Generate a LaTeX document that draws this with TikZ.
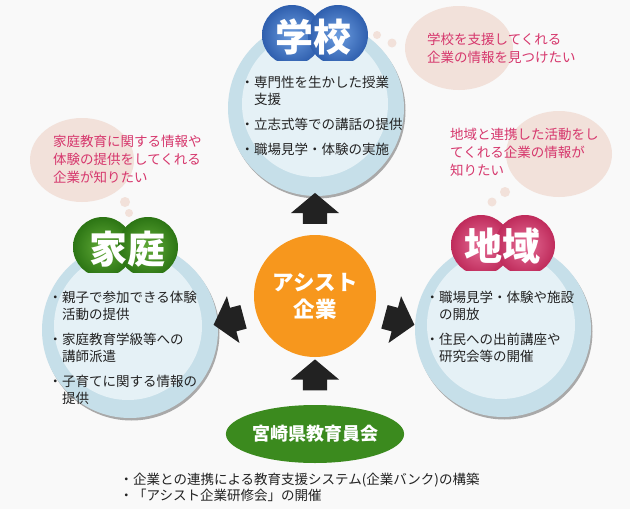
\documentclass[tikz,border=0pt]{standalone}
\usepackage{fontspec}
\setmainfont{Noto Sans CJK JP}
\usepackage{tikz}
\usetikzlibrary{shapes.arrows,shapes.geometric,positioning}
\definecolor{Page_Gray}{HTML}{F9F9F9}
\definecolor{Disk_Outer}{HTML}{C6DFE9}
\definecolor{Disk_Inner}{HTML}{E5F1F6}
\definecolor{Disk_Shadow}{HTML}{A9A9A9}
\definecolor{Bubble_Beige}{HTML}{F2E1DA}
\definecolor{Wish_Rose}{HTML}{D6366C}
\definecolor{Item_Black}{HTML}{222222}
\definecolor{Assist_Orange}{HTML}{F7971D}
\definecolor{Board_Green}{HTML}{3B8A1E}
\definecolor{School_Light}{HTML}{6C9DE0}
\definecolor{School_Dark}{HTML}{2F5FAE}
\definecolor{Home_Light}{HTML}{62AB38}
\definecolor{Home_Dark}{HTML}{2C7514}
\definecolor{Area_Light}{HTML}{E56E97}
\definecolor{Area_Dark}{HTML}{BF2B5B}

\tikzset{
  items/.style={Item_Black, anchor=north west, align=left, inner sep=0pt, font=\fontsize{13.5}{17}\selectfont},
  wish/.style={Wish_Rose, anchor=north west, align=left, inner sep=0pt, font=\fontsize{13.5}{18}\selectfont},
  badgetext/.style={text=white, inner sep=0pt, font=\fontsize{38}{40}\selectfont\bfseries},
  blockarrow/.style={single arrow, fill=Item_Black, inner xsep=0pt, inner ysep=12pt, minimum height=31pt, single arrow head extend=12pt, single arrow tip angle=100},
}

\begin{document}
\begin{tikzpicture}[x=1pt, y=-1pt]
    % Page
    \fill[Page_Gray] (0,0) rectangle (630,509);
    \useasboundingbox (0,0) rectangle (630,509);

    % Thought bubbles
    \fill[Bubble_Beige] (459,48) ellipse[x radius=54pt, y radius=42pt];
    \fill[Bubble_Beige] (377,35) circle[radius=4pt];
    \fill[Bubble_Beige] (392,43) circle[radius=4.5pt];
    \fill[Bubble_Beige] (559,154) ellipse[x radius=53pt, y radius=43pt];
    \fill[Bubble_Beige] (505,192) circle[radius=5pt];
    \fill[Bubble_Beige] (492,202) circle[radius=4.5pt];
    \fill[Bubble_Beige] (82,160) ellipse[x radius=52pt, y radius=42pt];
    \fill[Bubble_Beige] (125,202) circle[radius=5pt];
    \fill[Bubble_Beige] (129,213) circle[radius=4pt];

    % Bubble texts
    \node[wish] (schoolwish) at (427,33) {学校を支援してくれる\\企業の情報を見つけたい};
    \node[wish] (areawish) at (450,128) {地域と連携した活動をし\\てくれる企業の情報が\\知りたい};
    \node[wish] (homewish) at (53,135) {家庭教育に関する情報や\\体験の提供をしてくれる\\企業が知りたい};

    % School disk
    \fill[Disk_Shadow] (317.5,110.5) circle[radius=88pt];
    \fill[Disk_Outer] (316,108) circle[radius=88pt];
    \fill[Disk_Inner] (315,104) circle[radius=73pt];

    % Home disk
    \fill[Disk_Shadow] (131.5,332.5) circle[radius=88pt];
    \fill[Disk_Outer] (130,330) circle[radius=88pt];
    \fill[Disk_Inner] (128,326) circle[radius=74pt];

    % Area disk
    \fill[Disk_Shadow] (504.5,331.5) circle[radius=88pt];
    \fill[Disk_Outer] (503,329) circle[radius=88pt];
    \fill[Disk_Inner] (501,325) circle[radius=74pt];

    % School badge
    \begin{scope}
        \clip (250,0) rectangle (380,60);
        \shade[inner color=School_Light, outer color=School_Dark] (292,35) circle[radius=30pt];
        \shade[inner color=School_Light, outer color=School_Dark] (338,35) circle[radius=30pt];
    \end{scope}
    \node[badgetext] (school) at (313,37) {学校};

    % Home badge
    \begin{scope}
        \clip (60,200) rectangle (190,272);
        \shade[inner color=Home_Light, outer color=Home_Dark] (103,247) circle[radius=30pt];
        \shade[inner color=Home_Light, outer color=Home_Dark] (148,247) circle[radius=30pt];
    \end{scope}
    \node[badgetext] (home) at (127,249) {家庭};

    % Area badge
    \begin{scope}
        \clip (440,200) rectangle (570,270);
        \shade[inner color=Area_Light, outer color=Area_Dark] (481,245) circle[radius=30pt];
        \shade[inner color=Area_Light, outer color=Area_Dark] (525,245) circle[radius=30pt];
    \end{scope}
    \node[badgetext] (area) at (502,246) {地域};

    % Disk items
    \node[items] (schoolitems) at (240.5,76) {・専門性を生かした授業\\　支援\\[8pt]・立志式等での講話の提供\\[8pt]・職場見学・体験の実施};
    \node[items] (homeitems) at (48.5,291) {・親子で参加できる体験\\　活動の提供\\[8pt]・家庭教育学級等への\\　講師派遣\\[8pt]・子育てに関する情報の\\　提供};
    \node[items] (areaitems) at (425.5,291) {・職場見学・体験や施設\\　の開放\\[8pt]・住民への出前講座や\\　研究会等の開催};

    % Assist companies
    \node[circle, fill=Assist_Orange, minimum size=122pt, inner sep=0pt, text=white, align=center,
          font=\fontsize{21.5}{27}\selectfont\bfseries] (assist) at (315,296) {アシスト\\企業};

    % Prefectural board
    \node[ellipse, fill=Board_Green, minimum width=161pt, minimum height=58pt, inner sep=0pt, text=white,
          font=\fontsize{18}{20}\selectfont\bfseries] (board) at (315,434) {宮崎県教育員会};

    % Block arrows
    \node[blockarrow, rotate=90] (schoolarrow) at (315,213.5) {};
    \node[blockarrow, rotate=90] (boardarrow) at (315,380) {};
    \node[blockarrow, rotate=195] (homearrow) at (233.5,319.5) {};
    \node[blockarrow, rotate=-15] (areaarrow) at (394.5,319.5) {};

    % Board tasks
    \node[items, font=\fontsize{13.5}{16}\selectfont] (boardtasks) at (119.5,473)
        {・企業との連携による教育支援システム(企業バンク)の構築\\・「アシスト企業研修会」の開催};

\end{tikzpicture}
\end{document}
